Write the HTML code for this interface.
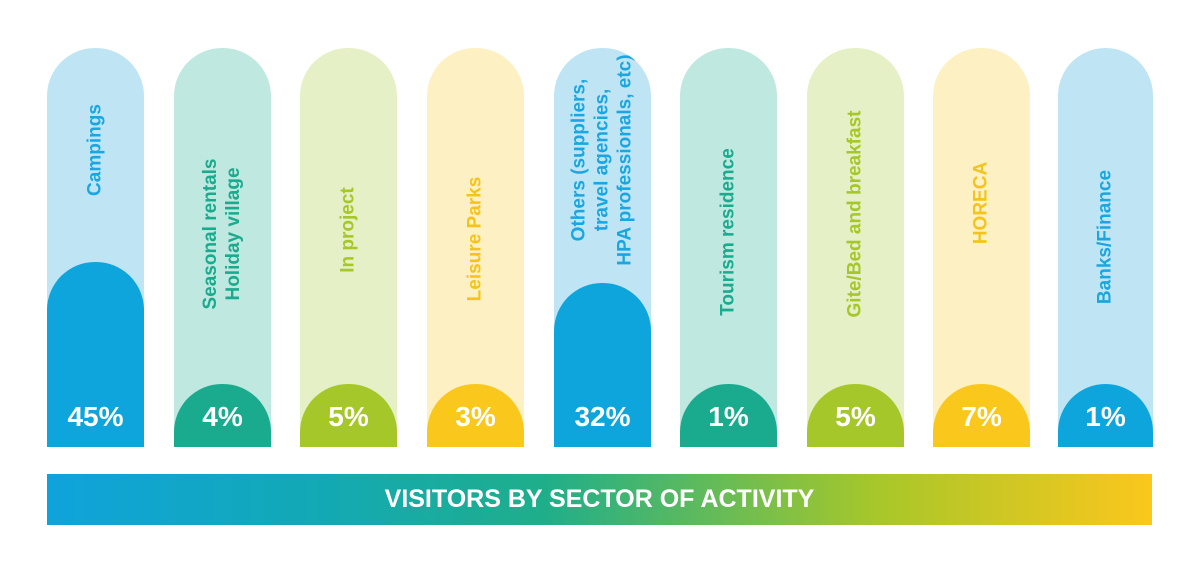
<!DOCTYPE html>
<html><head><meta charset="utf-8"><style>
body{margin:0;width:1200px;height:574px;background:#fff;position:relative;overflow:hidden;font-family:"Liberation Sans",sans-serif}
.bar{position:absolute;top:48px;height:399px;width:97px;border-radius:48px 48px 0 0;overflow:hidden}
.fill{position:absolute;left:0;right:0;bottom:0;border-radius:48px 48px 0 0}
.pct{position:absolute;left:0;right:0;top:353px;text-align:center;color:#fff;font-weight:bold;font-size:28px}
.lab{position:absolute;left:48px;width:320px;text-align:center;font-size:19px;font-weight:bold;line-height:23px;transform:translate(-50%,-50%) rotate(-90deg);white-space:nowrap}
.band{position:absolute;left:47px;top:474px;width:1105px;height:51px;background:linear-gradient(90deg,#0fa3dc 0%,#13a9b4 25%,#1fae8a 45%,#a7c72a 75%,#fbc71d 100%);color:#fff;font-weight:bold;font-size:25px;text-align:center;line-height:51px}
</style></head><body>
<div class="bar" style="left:47px;background:#bfe5f5"><div class="fill" style="height:185px;background:#0ea5dd"></div><div class="lab" style="top:102px;color:#1aa6e0">Campings</div><div class="pct">45%</div></div>
<div class="bar" style="left:174px;background:#bfe8e0"><div class="fill" style="height:63px;background:#1aab8e"></div><div class="lab" style="top:186px;color:#1aab8e">Seasonal rentals<br>Holiday village</div><div class="pct">4%</div></div>
<div class="bar" style="left:300px;background:#e6f0c6"><div class="fill" style="height:63px;background:#a6c72a"></div><div class="lab" style="top:182px;color:#a6c72a">In project</div><div class="pct">5%</div></div>
<div class="bar" style="left:427px;background:#fdf0c2"><div class="fill" style="height:63px;background:#fac81c"></div><div class="lab" style="top:191px;color:#f5c41c">Leisure Parks</div><div class="pct">3%</div></div>
<div class="bar" style="left:554px;background:#bfe5f5"><div class="fill" style="height:164px;background:#0ea5dd"></div><div class="lab" style="top:112px;color:#1aa6e0">Others (suppliers,<br>travel agencies,<br>HPA professionals, etc)</div><div class="pct">32%</div></div>
<div class="bar" style="left:680px;background:#bfe8e0"><div class="fill" style="height:63px;background:#1aab8e"></div><div class="lab" style="top:184px;color:#1aab8e">Tourism residence</div><div class="pct">1%</div></div>
<div class="bar" style="left:807px;background:#e6f0c6"><div class="fill" style="height:63px;background:#a6c72a"></div><div class="lab" style="top:166px;color:#a6c72a">Gite/Bed and breakfast</div><div class="pct">5%</div></div>
<div class="bar" style="left:933px;background:#fdf0c2"><div class="fill" style="height:63px;background:#fac81c"></div><div class="lab" style="top:155px;color:#f5c41c">HORECA</div><div class="pct">7%</div></div>
<div class="bar" style="left:1058px;width:95px;background:#bfe5f5"><div class="fill" style="height:63px;background:#0ea5dd"></div><div class="lab" style="top:189px;left:47px;color:#1aa6e0">Banks/Finance</div><div class="pct">1%</div></div>
<div class="band">VISITORS BY SECTOR OF ACTIVITY</div>
</body></html>
